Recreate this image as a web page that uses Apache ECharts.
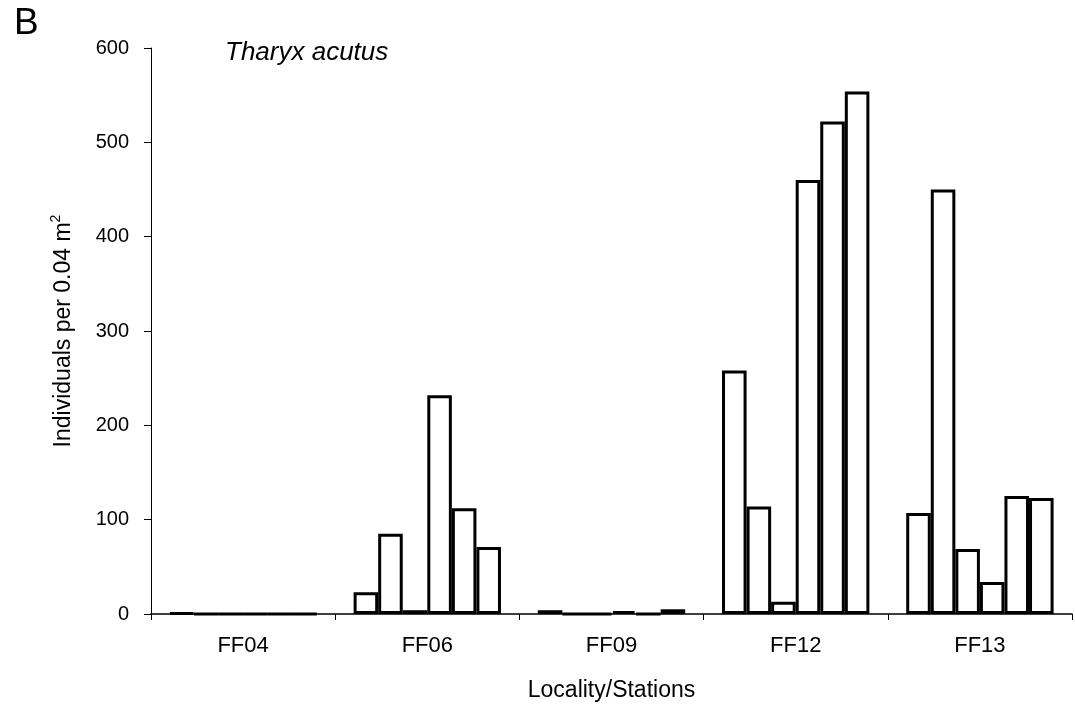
<!DOCTYPE html>
<html>
<head>
<meta charset="utf-8">
<script src="https://cdn.jsdelivr.net/npm/echarts@6/dist/echarts.min.js"></script>
<style>
  html, body { margin: 0; padding: 0; background: #fff; }
  #chart { width: 1075px; height: 709px; }
</style>
</head>
<body>
<div id="chart"></div>
<script>
// Tharyx acutus densities, six stations sampled within each locality
const categories = ['FF04', 'FF06', 'FF09', 'FF12', 'FF13'];
const ff04 = [1, 0, 0, 0, 0, 0];
const ff06 = [23, 85, 4, 232, 112, 71];
const ff09 = [4, 0, 0, 3, 0, 5];
const ff12 = [258, 114, 13, 460, 522, 554];
const ff13 = [107, 450, 69, 34, 125, 123];
const yTicks = [0, 100, 200, 300, 400, 500, 600];

const byLocality = [ff04, ff06, ff09, ff12, ff13];
const stationCount = ff04.length;

const FONT = '"Liberation Sans", Arial, sans-serif';

// one series per station position, so the six bars sit side by side in each locality
const series = [];
for (let s = 0; s < stationCount; s++) {
  series.push({
    type: 'bar',
    name: 'Station ' + (s + 1),
    data: byLocality.map(arr => arr[s]),
    barGap: '0%',
    barCategoryGap: '20%',
    itemStyle: { color: '#ffffff', borderColor: '#000000', borderWidth: 3 },
    emphasis: { disabled: true },
    animation: false
  });
}

const chart = echarts.init(document.getElementById('chart'), null, { renderer: 'canvas' });
chart.setOption({
  backgroundColor: '#ffffff',
  animation: false,
  title: [
    { text: 'B', left: 9, top: 0,
      textStyle: { fontFamily: FONT, fontSize: 37, fontWeight: 'normal', color: '#000' } },
    { text: 'Tharyx acutus', left: 220, top: 35,
      textStyle: { fontFamily: FONT, fontSize: 26, fontStyle: 'italic', fontWeight: 'normal', color: '#000' } }
  ],
  grid: { left: 151, right: 3, top: 48, bottom: 95, containLabel: false },
  xAxis: {
    type: 'category',
    data: categories,
    name: 'Locality/Stations',
    nameLocation: 'middle',
    nameGap: 65,
    nameTextStyle: { fontFamily: FONT, fontSize: 23, color: '#000' },
    axisLine: { lineStyle: { color: '#000', width: 1.5 } },
    axisTick: { show: true, alignWithLabel: false, length: 6, lineStyle: { color: '#000' } },
    axisLabel: { fontFamily: FONT, fontSize: 22, color: '#000', margin: 21 },
    splitLine: { show: false }
  },
  yAxis: {
    type: 'value',
    min: yTicks[0],
    max: yTicks[yTicks.length - 1],
    interval: yTicks[1] - yTicks[0],
    name: 'Individuals per 0.04 m{sup|2}',
    nameLocation: 'middle',
    nameGap: 73,
    nameTextStyle: {
      fontFamily: FONT, fontSize: 23, color: '#000',
      rich: { sup: { fontFamily: FONT, fontSize: 14, color: '#000', padding: [0, 0, 15, 0] } }
    },
    axisLine: { show: true, lineStyle: { color: '#000', width: 1 } },
    axisTick: { show: true, length: 7, lineStyle: { color: '#000' } },
    axisLabel: { fontFamily: FONT, fontSize: 20, color: '#000', margin: 22 },
    splitLine: { show: false }
  },
  series: series
});
</script>
</body>
</html>
